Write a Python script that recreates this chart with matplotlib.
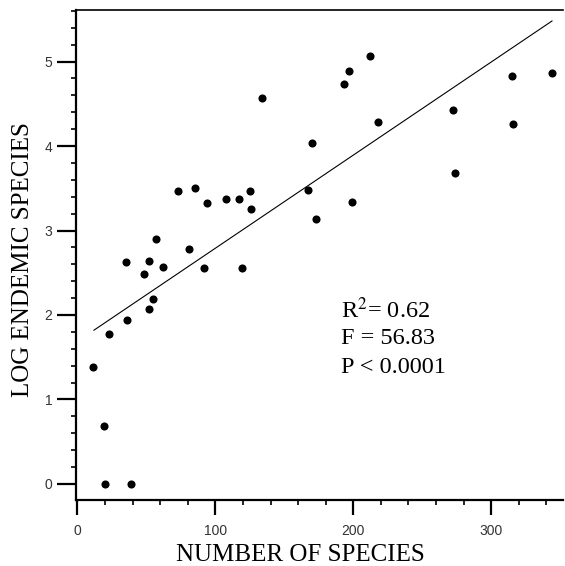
import matplotlib
matplotlib.use('Agg')
import matplotlib.pyplot as plt
from matplotlib.ticker import MultipleLocator

# ─── Data ───────────────────────────────────────────────────────────────
n_species = [11, 19, 20, 39, 23, 36, 52, 55, 48, 35, 52, 57, 62, 81,
             73, 85, 92, 94, 108, 117, 119, 125, 126, 134, 167, 170, 173,
             193, 197, 199, 212, 218, 272, 274, 315, 316, 344]
log_endemic = [1.38, 0.69, 0.0, 0.0, 1.78, 1.94, 2.07, 2.19, 2.48, 2.63,
               2.64, 2.90, 2.57, 2.78, 3.47, 3.50, 2.56, 3.33, 3.37, 3.37,
               2.56, 3.47, 3.26, 4.57, 3.48, 4.04, 3.14, 4.73, 4.89, 3.34,
               5.06, 4.28, 4.43, 3.68, 4.83, 4.26, 4.87]

# regression line end points
fit_x = [12, 344]
fit_y = [1.82, 5.48]

stats = ['R$^2$= 0.62', 'F = 56.83', 'P < 0.0001']

plt.rcParams['mathtext.fontset'] = 'stix'

# ─── Figure ─────────────────────────────────────────────────────────────
fig = plt.figure(figsize=(5.65, 5.66), dpi=100)
ax = fig.add_axes([0.1345, 0.1166, 0.862, 0.8657])

ax.scatter(n_species, log_endemic, s=34, color='black', zorder=3, linewidths=0)
ax.plot(fit_x, fit_y, color='black', lw=0.8)

ax.set_xlim(-1, 352)
ax.set_ylim(-0.19, 5.61)

ax.xaxis.set_major_locator(MultipleLocator(100))
ax.xaxis.set_minor_locator(MultipleLocator(20))
ax.yaxis.set_major_locator(MultipleLocator(1))
ax.yaxis.set_minor_locator(MultipleLocator(0.2))

ax.spines['right'].set_visible(False)
ax.spines['left'].set_linewidth(1.6)
ax.spines['bottom'].set_linewidth(1.6)
ax.spines['top'].set_linewidth(1.2)

ax.tick_params(axis='y', which='major', direction='out', length=14, width=1.6,
               pad=3, labelsize=10, labelcolor='#333333')
ax.tick_params(axis='x', which='major', direction='out', length=11, width=1.6,
               pad=6, labelsize=10, labelcolor='#333333')
ax.tick_params(which='minor', direction='out', length=3.5, width=1.2)
for lab in ax.get_xticklabels() + ax.get_yticklabels():
    lab.set_family('Liberation Sans')

ax.set_xlabel('NUMBER OF SPECIES', fontsize=18, family='Liberation Serif')
ax.set_ylabel('LOG ENDEMIC SPECIES', fontsize=18, family='Liberation Serif')
ax.xaxis.set_label_coords(0.46, -0.112)
ax.xaxis.label.set_va('center')
ax.yaxis.set_label_coords(-0.109, 0.49)
ax.yaxis.label.set_va('center')

# regression statistics
for txt, yy in zip(stats, [0.371, 0.318, 0.259]):
    ax.text(0.545, yy, txt, transform=ax.transAxes, fontsize=17.5,
            family='Liberation Serif', ha='left', va='baseline')

fig.savefig('out.png', dpi=100, facecolor='white')
plt.close()
